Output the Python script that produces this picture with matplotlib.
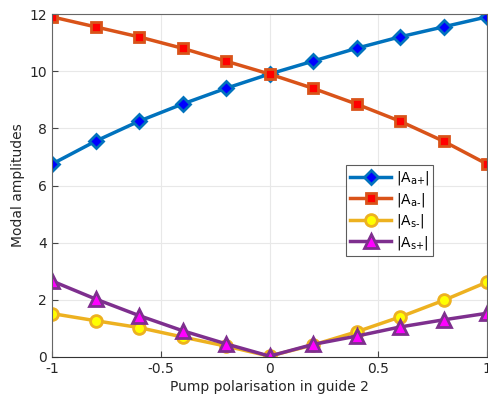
import numpy as np
import matplotlib.pyplot as plt

# pump polarisation values
pol = [-1, -0.8, -0.6, -0.4, -0.2, 0, 0.2, 0.4, 0.6, 0.8, 1]

a_plus = [6.75, 7.55, 8.25, 8.85, 9.4, 9.9, 10.35, 10.8, 11.2, 11.55, 11.9]
a_minus = [11.9, 11.55, 11.2, 10.8, 10.35, 9.9, 9.4, 8.85, 8.25, 7.55, 6.75]
s_minus = [1.52, 1.27, 1.03, 0.7, 0.38, 0.03, 0.42, 0.88, 1.4, 1.98, 2.62]
s_plus = [2.66, 2.03, 1.45, 0.92, 0.46, 0.03, 0.44, 0.73, 1.05, 1.3, 1.53]

labels = [r'|A$_{\text{a+}}$|', r'|A$_{\text{a-}}$|',
          r'|A$_{\text{s-}}$|', r'|A$_{\text{s+}}$|']

plt.rcParams['font.family'] = 'DejaVu Sans'
plt.rcParams['mathtext.fontset'] = 'dejavusans'

fig = plt.figure(figsize=(4.88, 3.99), dpi=100)
ax = fig.add_axes([52/488, 1 - 357/399, 435/488, (357 - 14)/399])

ax.plot(pol, a_plus, c='#0072BD', lw=2.5, marker='D', ms=7.5,
        mfc='#0000FF', mec='#0072BD', mew=2, label=labels[0])
ax.plot(pol, a_minus, c='#D95319', lw=2.5, marker='s', ms=7.5,
        mfc='#FF0000', mec='#D95319', mew=2, label=labels[1])
ax.plot(pol, s_minus, c='#EDB120', lw=2.5, marker='o', ms=8.5,
        mfc='#FFFF00', mec='#EDB120', mew=2, label=labels[2])
ax.plot(pol, s_plus, c='#7E2F8E', lw=2.5, marker='^', ms=9.5,
        mfc='#FF00FF', mec='#7E2F8E', mew=2, label=labels[3])

ax.set_xlim(-1, 1)
ax.set_ylim(0, 12)
ax.set_xticks([-1, -0.5, 0, 0.5, 1])
ax.set_xticklabels(['-1', '-0.5', '0', '0.5', '1'])
ax.set_yticks(np.arange(0, 13, 2))
ax.grid(True, color='#e8e8e8', lw=0.8)
ax.set_axisbelow(True)
ax.tick_params(direction='in', length=4, color='#444444', labelsize=10,
               labelcolor='#262626', top=False, right=False)
for s in ax.spines.values():
    s.set_color('#666666')
    s.set_linewidth(0.8)
ax.spines['bottom'].set_color('#333333')

ax.set_xlabel('Pump polarisation in guide 2', fontsize=10, color='#262626', labelpad=3)
ax.set_ylabel('Modal amplitudes', fontsize=10, color='#262626', labelpad=3)

leg = ax.legend(loc='upper left', bbox_to_anchor=(0.675, 0.56), fontsize=10,
                frameon=True, fancybox=False, edgecolor='#333333',
                borderpad=0.3, handlelength=3.0, handletextpad=0.3,
                labelspacing=0.25, borderaxespad=0)
leg.get_frame().set_linewidth(0.8)

fig.savefig('out.png', dpi=100)
